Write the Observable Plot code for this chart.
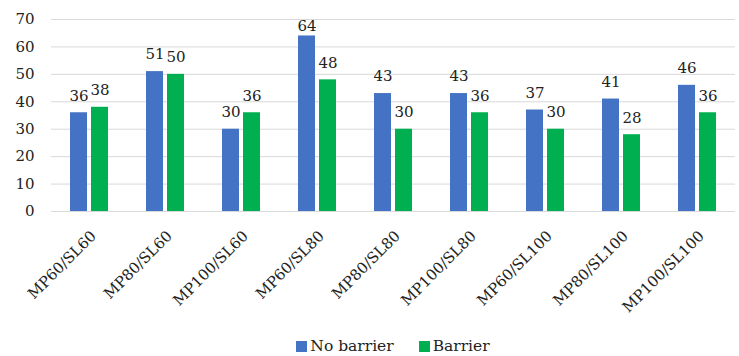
<!DOCTYPE html>
<html>
<head>
<meta charset="utf-8">
<script src="https://cdn.jsdelivr.net/npm/d3@7"></script>
<script src="https://cdn.jsdelivr.net/npm/@observablehq/plot@0.6"></script>
<style>
  body { margin: 0; background: #fff; }
  #chart svg { display: block; }
  .legend { display: flex; justify-content: center; gap: 25px; font-family: "DejaVu Serif", "Liberation Serif", serif; font-size: 15.5px; color: #222; height: 24px; align-items: center; padding-left: 47px; padding-top: 3px; box-sizing: border-box; }
  .legend span.sw { display: inline-block; width: 11px; height: 11px; margin-right: 3px; vertical-align: -1px; }
</style>
</head>
<body>
<div id="chart"></div>
<script>
const categories = ["MP60/SL60","MP80/SL60","MP100/SL60","MP60/SL80","MP80/SL80","MP100/SL80","MP60/SL100","MP80/SL100","MP100/SL100"];
const seriesNames = ["No barrier","Barrier"];
const noBarrier = [36, 51, 30, 64, 43, 43, 37, 41, 46];
const barrier = [38, 50, 36, 48, 30, 36, 30, 28, 36];
const colors = ["#4472C4", "#00B050"];
const yTicks = [0,10,20,30,40,50,60,70];

const data = [];
categories.forEach((c, i) => {
  data.push({cat: c, series: seriesNames[0], value: noBarrier[i]});
  data.push({cat: c, series: seriesNames[1], value: barrier[i]});
});

const font = "'DejaVu Serif', 'Liberation Serif', serif";
const chart = Plot.plot({
  width: 739, height: 332,
  marginLeft: 50, marginRight: 3, marginTop: 19, marginBottom: 121,
  style: {fontFamily: font, fontSize: "15px", color: "#222", background: "#fff"},
  fx: {domain: categories, paddingInner: 0, paddingOuter: 0, label: null},
  x: {domain: seriesNames, paddingInner: 0.18, paddingOuter: 0.82, axis: null},
  y: {domain: [0, 70], label: null},
  color: {domain: seriesNames, range: colors},
  marks: [
    Plot.gridY(yTicks, {stroke: "#d9d9d9", strokeOpacity: 1}),
    Plot.axisY(yTicks, {tickSize: 0, tickPadding: 17, fontSize: 15, fontFamily: font, label: null}),
    Plot.axisFx({anchor: "bottom", tickRotate: -45, tickSize: 0, tickPadding: 22, dx: 4, fontSize: 15, fontFamily: font, label: null}),
    Plot.barY(data, {fx: "cat", x: "series", y: "value", fill: "series"}),
    // labels sit above bars, kept inside the plot area like the original
    Plot.text(data, {fx: "cat", x: "series", y: d => Math.min(d.value, 61.4), text: d => String(d.value), dy: -17, fontSize: 15, fontFamily: font, fill: "#222"})
  ]
});
document.getElementById("chart").appendChild(chart);

const legend = document.createElement("div");
legend.className = "legend";
seriesNames.forEach((s, i) => {
  const item = document.createElement("div");
  const sw = document.createElement("span");
  sw.className = "sw";
  sw.style.background = colors[i];
  item.appendChild(sw);
  item.appendChild(document.createTextNode(s));
  legend.appendChild(item);
});
document.body.appendChild(legend);
</script>
</body>
</html>
